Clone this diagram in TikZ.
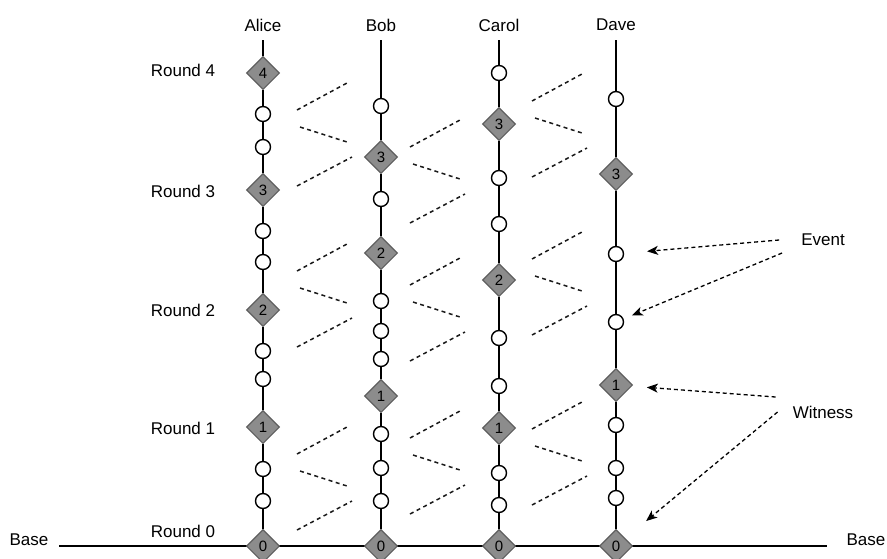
\documentclass[tikz,border=0pt]{standalone}
\usepackage{fontspec}
\setmainfont{Liberation Sans}
\usetikzlibrary{shapes.geometric,arrows.meta}

\definecolor{witnessgray}{RGB}{140,140,140}
\definecolor{witnessedge}{RGB}{95,95,95}

% one member: name, x, list of y/kind/round from the top down
\newcommand{\member}[3]{%
  \node[label text] (#1) at (#2,25) {#1};
  \coordinate (#1-0) at (#2,40);
  \foreach \y/\s/\k [count=\i, remember=\i as \j (initially 0)] in {#3} {
    \node[\s] (#1-\i) at (#2,\y) {\k};
    \draw[thread] (#1-\j) -- (#1-\i);
  }%
}

\begin{document}
\begin{tikzpicture}[x=1pt,y=-1pt,
  label text/.style={inner sep=2pt,font=\fontsize{17}{20}\selectfont},
  thread/.style={line width=1.4pt},
  event/.style={circle,draw,fill=white,line width=1.4pt,minimum size=15pt,inner sep=0pt},
  witness/.style={diamond,draw=witnessedge,fill=witnessgray,line width=1.1pt,
    minimum width=33pt,minimum height=33pt,inner sep=0pt,font=\fontsize{15}{17}\selectfont},
  gossip/.style={dash pattern=on 4pt off 3.5pt,line width=1.5pt,black!90},
  pointer/.style={dash pattern=on 4pt off 3pt,line width=1.3pt,-{Stealth[length=11pt,width=9pt,inset=3pt]}}]
\useasboundingbox (0,0) rectangle (887,558);

% base line and rounds
\node[label text] (base-left) at (29,540) {Base};
\node[label text] (base-right) at (866,540) {Base};
\coordinate (baseL) at (59,546);
\coordinate (baseR) at (827,546);
\draw[thread] (baseL) -- (baseR);
\foreach \r/\y in {4/70, 3/191, 2/310, 1/428, 0/531}
  \node[label text] (round-\r) at (183,\y) {Round \r};

% gossip between members
\foreach \x/\y in {297/83, 297/244, 297/427, 410/120, 410/258, 410/411, 532/74, 532/232, 532/402} {
  \draw[gossip] (\x,\y+27) -- (\x+50,\y);
  \draw[gossip] (\x+3,\y+44) -- (\x+50,\y+59);
  \draw[gossip] (\x,\y+103) -- (\x+55,\y+74);
}

\member{Alice}{263}{73/witness/4, 114/event/{}, 147/event/{}, 190/witness/3, 231/event/{}, 262/event/{},
  310/witness/2, 351/event/{}, 379/event/{}, 427/witness/1, 469/event/{}, 501/event/{}, 546/witness/0}
\member{Bob}{381}{106/event/{}, 157/witness/3, 199/event/{}, 253/witness/2, 301/event/{}, 331/event/{},
  359/event/{}, 396/witness/1, 434/event/{}, 468/event/{}, 501/event/{}, 546/witness/0}
\member{Carol}{499}{73/event/{}, 124/witness/3, 178/event/{}, 224/event/{}, 280/witness/2, 338/event/{},
  386/event/{}, 428/witness/1, 473/event/{}, 505/event/{}, 546/witness/0}
\member{Dave}{616}{99/event/{}, 174/witness/3, 254/event/{}, 322/event/{}, 385/witness/1, 425/event/{},
  468/event/{}, 498/event/{}, 546/witness/0}

% legend
\node[label text] (Event) at (823,240) {Event};
\node[label text] (Witness) at (823,412) {Witness};
\draw[pointer,shorten >=23pt] ([xshift=-20pt]Event.west) -- (Dave-3);
\draw[pointer,shorten >=9pt] ([xshift=-17pt,yshift=-13pt]Event.west) -- (Dave-4);
\draw[pointer,shorten >=15pt] ([xshift=-15pt,yshift=15pt]Witness.west) -- (Dave-5);
\draw[pointer,shorten >=27pt] ([xshift=-13pt]Witness.west) -- (Dave-9);

\end{tikzpicture}
\end{document}
